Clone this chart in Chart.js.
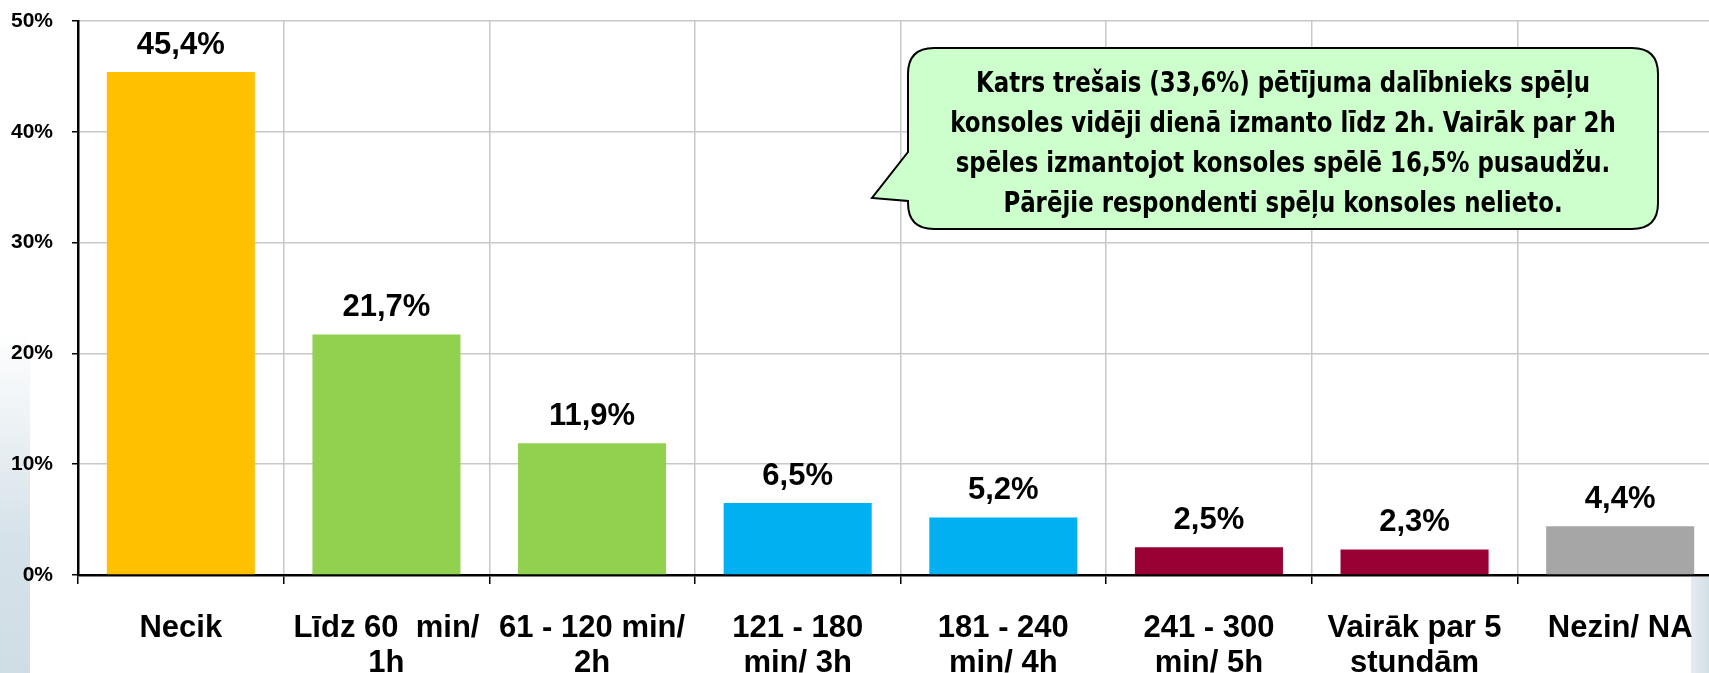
<!DOCTYPE html>
<html>
<head>
  <title>Spēļu konsoles</title>
  <script src="https://cdn.jsdelivr.net/npm/chart.js"></script>
  <style>
    html, body { margin: 0; padding: 0; background: #fff; }
    #wrap { position: relative; width: 1709px; height: 673px; overflow: hidden; }
    #leftStrip { position: absolute; left: 0; top: 330px; width: 30px; height: 343px;
      background: linear-gradient(to bottom, rgba(214,226,233,0), #d6e2e9 60%, #cfdde5); }
    #rightStrip { position: absolute; left: 1691px; top: 577px; width: 18px; height: 96px;
      background: linear-gradient(to right, #e4ecf0, #d3dfe6); }
    #chartBox { position: absolute; left: 0; top: 0; width: 1740px; height: 673px; }
  </style>
</head>
<body>
  <div id="wrap">
    <div id="leftStrip"></div>
    <div id="rightStrip"></div>
    <div id="chartBox"><canvas id="consoleChart"></canvas></div>
  </div>

  <script>
    // kategorijas un vērtības (%)
    const categories = [
      'Necik',
      ['Līdz 60  min/', '1h'],
      ['61 - 120 min/', '2h'],
      ['121 - 180', 'min/ 3h'],
      ['181 - 240', 'min/ 4h'],
      ['241 - 300', 'min/ 5h'],
      ['Vairāk par 5', 'stundām'],
      'Nezin/ NA'
    ];
    const values = [45.4, 21.7, 11.9, 6.5, 5.2, 2.5, 2.3, 4.4];
    const barColors = ['#FFC000', '#92D050', '#92D050', '#00B0F0', '#00B0F0', '#990033', '#990033', '#A6A6A6'];
    const yTicks = [0, 10, 20, 30, 40, 50];
    const calloutLines = [
      'Katrs trešais (33,6%) pētījuma dalībnieks spēļu',
      'konsoles vidēji dienā izmanto līdz 2h. Vairāk par 2h',
      'spēles izmantojot konsoles spēlē 16,5% pusaudžu.',
      'Pārējie respondenti spēļu konsoles nelieto.'
    ];

    const fmt = v => v.toFixed(1).replace('.', ',') + '%';

    const valueLabels = {
      id: 'valueLabels',
      afterDatasetsDraw(chart) {
        const ctx = chart.ctx;
        const meta = chart.getDatasetMeta(0);
        ctx.save();
        ctx.font = 'bold 31px Arial, "Liberation Sans", sans-serif';
        ctx.fillStyle = '#000';
        ctx.textAlign = 'center';
        ctx.textBaseline = 'middle';
        meta.data.forEach((bar, i) => {
          ctx.fillText(fmt(values[i]), bar.x, bar.y - 27);
        });
        ctx.restore();
      }
    };

    const callout = {
      id: 'callout',
      afterDraw(chart) {
        const ctx = chart.ctx;
        const x0 = 908, y0 = 48, x1 = 1658, y1 = 229, r = 26;
        ctx.save();
        ctx.beginPath();
        ctx.moveTo(x0 + r, y0);
        ctx.lineTo(x1 - r, y0);
        ctx.quadraticCurveTo(x1, y0, x1, y0 + r);
        ctx.lineTo(x1, y1 - r);
        ctx.quadraticCurveTo(x1, y1, x1 - r, y1);
        ctx.lineTo(x0 + r, y1);
        ctx.quadraticCurveTo(x0, y1, x0, y1 - r);
        ctx.lineTo(x0, 201);
        ctx.lineTo(872, 198);
        ctx.lineTo(x0, 152);
        ctx.lineTo(x0, y0 + r);
        ctx.quadraticCurveTo(x0, y0, x0 + r, y0);
        ctx.closePath();
        ctx.fillStyle = '#CCFFCC';
        ctx.fill();
        ctx.lineWidth = 2;
        ctx.strokeStyle = '#000';
        ctx.stroke();
        ctx.font = 'bold 29px "Liberation Sans Narrow", "DejaVu Sans Condensed", sans-serif';
        ctx.fillStyle = '#000';
        ctx.textAlign = 'center';
        ctx.textBaseline = 'middle';
        const sx = 614 / ctx.measureText(calloutLines[0]).width;
        calloutLines.forEach((t, i) => {
          ctx.save();
          ctx.translate(1283, 84 + i * 40);
          ctx.scale(sx, 1);
          ctx.fillText(t, 0, 0);
          ctx.restore();
        });
        ctx.restore();
      }
    };

    new Chart(document.getElementById('consoleChart'), {
      type: 'bar',
      data: {
        labels: categories,
        datasets: [{
          data: values,
          backgroundColor: barColors,
          barPercentage: 0.72,
          categoryPercentage: 1
        }]
      },
      options: {
        responsive: true,
        maintainAspectRatio: false,
        animation: false,
        layout: { padding: { top: 21, right: 17, left: 0, bottom: 0 } },
        plugins: { legend: { display: false }, tooltip: { enabled: false } },
        scales: {
          x: {
            grid: { color: '#C8C8C8', lineWidth: 1.5, tickColor: '#000', tickLength: 9, offset: true },
            border: { color: '#000', width: 2.5 },
            ticks: {
              color: '#000',
              padding: 27,
              maxRotation: 0,
              autoSkip: false,
              font: { family: 'Arial, "Liberation Sans", sans-serif', size: 31, weight: 'bold', lineHeight: 1.12 }
            },
            afterFit(axis) { axis.height = 98; }
          },
          y: {
            min: 0,
            max: 50,
            afterBuildTicks(axis) { axis.ticks = yTicks.map(v => ({ value: v })); },
            grid: { color: '#C8C8C8', lineWidth: 1.5, tickColor: '#000', tickLength: 6 },
            border: { color: '#000', width: 2.5 },
            ticks: {
              color: '#000',
              padding: 19,
              callback: v => v + '%',
              font: { family: 'Arial, "Liberation Sans", sans-serif', size: 21, weight: 'bold' }
            },
            afterFit(axis) {
              axis.width = 78;
              axis.paddingTop = 0;
              axis.paddingBottom = 0;
            }
          }
        }
      },
      plugins: [valueLabels, callout]
    });
  </script>
</body>
</html>
